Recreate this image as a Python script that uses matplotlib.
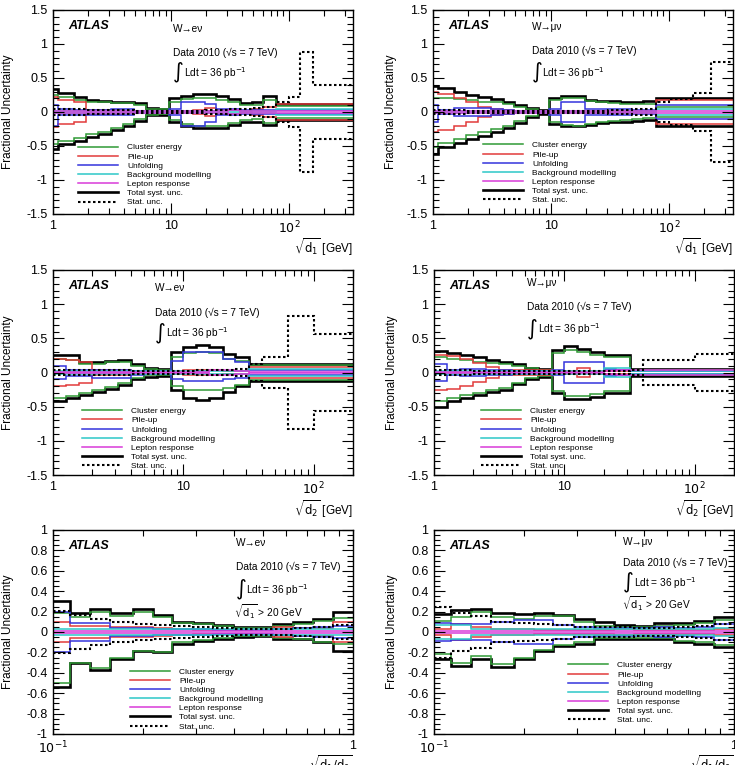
import matplotlib
matplotlib.use('Agg')
import matplotlib.pyplot as plt
from matplotlib.lines import Line2D
from matplotlib.ticker import FixedLocator, FixedFormatter, MultipleLocator, LogLocator, NullFormatter

plt.rcParams['font.family'] = ['Liberation Sans', 'DejaVu Sans']
plt.rcParams['mathtext.fontset'] = 'dejavusans'

# ================= DATA =================
# panel 1: W->e nu, sqrt(d1)
E1_EDGES = [1, 1.1, 1.5, 1.9, 2.4, 3.1, 3.9, 4.9, 6.2, 7.7, 9.6, 12.2, 15.4, 19.3, 24.3,
            30.5, 38.4, 48.3, 60.8, 78, 100, 125, 160, 350]
E1_TOT_UP = [0.34, 0.28, 0.22, 0.17, 0.16, 0.15, 0.15, 0.13, 0.06, 0.05, 0.2, 0.24, 0.26, 0.26,
             0.23, 0.19, 0.13, 0.14, 0.23, 0.12, 0.12, 0.12, 0.12]
E1_TOT_DN = [-0.55, -0.47, -0.42, -0.37, -0.32, -0.27, -0.2, -0.13, -0.05, -0.04, -0.15, -0.2,
             -0.24, -0.24, -0.24, -0.19, -0.14, -0.14, -0.19, -0.12, -0.12, -0.12, -0.12]
E1_CL_UP = [0.25, 0.22, 0.17, 0.14, 0.14, 0.13, 0.13, 0.11, 0.05, 0.04, 0.15, 0.19, 0.2, 0.2,
            0.18, 0.15, 0.11, 0.11, 0.18, 0.09, 0.09, 0.09, 0.09]
E1_CL_DN = [-0.47, -0.42, -0.38, -0.33, -0.29, -0.24, -0.18, -0.11, -0.04, -0.03, -0.12, -0.17,
            -0.2, -0.2, -0.2, -0.16, -0.12, -0.11, -0.16, -0.09, -0.09, -0.09, -0.09]
E1_PU = [0.22, 0.17, 0.15, 0.03, 0.03, 0.03, 0.02, 0.02, 0.01, 0.01, 0.01, 0.02, 0.03, 0.06,
         0.03, 0.03, 0.02, 0.04, 0.07, 0.12, 0.12, 0.12, 0.12]
E1_UNF_UP = [0.1, 0.04, 0.03, 0.03, 0.03, 0.04, 0.04, 0.02, 0.01, 0.01, 0.04, 0.15, 0.15, 0.12,
             0.05, 0.04, 0.03, 0.03, 0.03, 0.03, 0.03, 0.03, 0.03]
E1_UNF_DN = [-0.2, -0.05, -0.04, -0.04, -0.04, -0.05, -0.05, -0.02, -0.01, -0.01, -0.05, -0.2,
             -0.2, -0.15, -0.05, -0.04, -0.03, -0.03, -0.03, -0.03, -0.03, -0.03, -0.03]
E1_BKG = [0.02, 0.02, 0.02, 0.02, 0.02, 0.02, 0.02, 0.02, 0.02, 0.02, 0.02, 0.02, 0.02, 0.02,
          0.02, 0.02, 0.02, 0.02, 0.02, 0.05, 0.05, 0.05, 0.05]
E1_LEP = [0.01, 0.01, 0.01, 0.01, 0.01, 0.01, 0.01, 0.01, 0.01, 0.01, 0.01, 0.01, 0.01, 0.02,
          0.02, 0.03, 0.02, 0.01, 0.01, 0.02, 0.02, 0.02, 0.02]
E1_STAT = [0.05, 0.04, 0.04, 0.03, 0.03, 0.03, 0.03, 0.02, 0.02, 0.02, 0.02, 0.02, 0.02, 0.03,
           0.03, 0.04, 0.05, 0.06, 0.08, 0.14, 0.22, 0.88, 0.4]

# panel 2: W->mu nu, sqrt(d1)
M1_EDGES = [1, 1.1, 1.5, 1.9, 2.4, 3.1, 3.9, 4.9, 6.2, 7.7, 9.6, 12.2, 15.4, 19.3, 24.3,
            30.5, 38.4, 48.3, 60.8, 78, 100, 160, 230, 350]
M1_TOT_UP = [0.38, 0.35, 0.3, 0.25, 0.22, 0.19, 0.15, 0.1, 0.06, 0.03, 0.2, 0.24, 0.23, 0.18,
             0.16, 0.16, 0.15, 0.15, 0.16, 0.2, 0.2, 0.2, 0.2]
M1_TOT_DN = [-0.62, -0.52, -0.45, -0.4, -0.35, -0.3, -0.24, -0.16, -0.07, -0.03, -0.17, -0.2,
             -0.21, -0.19, -0.16, -0.15, -0.14, -0.13, -0.12, -0.2, -0.2, -0.2, -0.2]
M1_CL_UP = [0.2, 0.2, 0.19, 0.17, 0.15, 0.14, 0.12, 0.08, 0.05, 0.02, 0.18, 0.21, 0.2, 0.16,
            0.14, 0.13, 0.12, 0.12, 0.12, 0.07, 0.07, 0.07, 0.07]
M1_CL_DN = [-0.52, -0.46, -0.39, -0.34, -0.3, -0.25, -0.2, -0.13, -0.06, -0.02, -0.15, -0.19,
            -0.2, -0.17, -0.14, -0.13, -0.12, -0.1, -0.09, -0.07, -0.07, -0.07, -0.07]
M1_PU = [0.3, 0.26, 0.2, 0.14, 0.08, 0.04, 0.03, 0.02, 0.02, 0.01, 0.01, 0.01, 0.01, 0.01,
         0.01, 0.01, 0.01, 0.01, 0.01, 0.18, 0.18, 0.18, 0.18]
M1_UNF_UP = [0.1, 0.03, 0.06, 0.06, 0.06, 0.04, 0.03, 0.02, 0.02, 0.01, 0.05, 0.15, 0.15, 0.05,
             0.04, 0.04, 0.04, 0.03, 0.03, 0.1, 0.1, 0.1, 0.1]
M1_UNF_DN = [-0.15, -0.03, -0.06, -0.06, -0.06, -0.04, -0.03, -0.02, -0.02, -0.01, -0.05, -0.15,
             -0.15, -0.05, -0.04, -0.04, -0.04, -0.03, -0.03, -0.1, -0.1, -0.1, -0.1]
M1_BKG = [0.02, 0.02, 0.02, 0.02, 0.02, 0.02, 0.02, 0.02, 0.02, 0.02, 0.02, 0.02, 0.02, 0.02,
          0.02, 0.02, 0.02, 0.02, 0.02, 0.05, 0.05, 0.05, 0.05]
M1_LEP = [0.01, 0.01, 0.01, 0.01, 0.01, 0.01, 0.01, 0.01, 0.01, 0.01, 0.01, 0.01, 0.01, 0.01,
          0.01, 0.01, 0.01, 0.01, 0.01, 0.01, 0.01, 0.01, 0.01]
M1_STAT = [0.03, 0.03, 0.03, 0.02, 0.02, 0.02, 0.02, 0.02, 0.02, 0.02, 0.02, 0.02, 0.02, 0.02,
           0.02, 0.03, 0.03, 0.04, 0.05, 0.15, 0.19, 0.28, 0.74]

# panel 3: W->e nu, sqrt(d2)
E2_EDGES = [1, 1.26, 1.58, 2, 2.5, 3.16, 4, 5, 6.3, 8, 10, 12.6, 15.8, 20, 25, 32, 40, 63, 100, 200]
E2_TOT_UP = [0.26, 0.25, 0.16, 0.15, 0.17, 0.18, 0.13, 0.07, 0.05, 0.3, 0.37, 0.4, 0.37, 0.27,
             0.22, 0.13, 0.13, 0.13, 0.13]
E2_TOT_DN = [-0.42, -0.38, -0.33, -0.28, -0.24, -0.18, -0.1, -0.06, -0.05, -0.25, -0.37, -0.4,
             -0.37, -0.28, -0.2, -0.13, -0.13, -0.13, -0.13]
E2_CL_UP = [0.2, 0.18, 0.13, 0.13, 0.15, 0.15, 0.1, 0.05, 0.04, 0.22, 0.28, 0.3, 0.28, 0.2,
            0.17, 0.11, 0.11, 0.11, 0.11]
E2_CL_DN = [-0.38, -0.35, -0.3, -0.25, -0.21, -0.15, -0.08, -0.04, -0.03, -0.2, -0.25, -0.25,
            -0.25, -0.23, -0.18, -0.11, -0.11, -0.11, -0.11]
E2_PU = [0.2, 0.18, 0.16, 0.03, 0.04, 0.04, 0.02, 0.02, 0.02, 0.02, 0.03, 0.04, 0.03, 0.02,
         0.02, 0.08, 0.08, 0.08, 0.08]
E2_UNF_UP = [0.1, 0.04, 0.03, 0.03, 0.03, 0.03, 0.02, 0.02, 0.02, 0.17, 0.3, 0.3, 0.3, 0.2,
             0.15, 0.03, 0.03, 0.03, 0.03]
E2_UNF_DN = [-0.1, -0.05, -0.05, -0.08, -0.08, -0.08, -0.03, -0.02, -0.02, -0.1, -0.12, -0.12,
             -0.12, -0.1, -0.08, -0.03, -0.03, -0.03, -0.03]
E2_BKG = [0.02, 0.02, 0.02, 0.02, 0.02, 0.02, 0.02, 0.02, 0.02, 0.02, 0.02, 0.02, 0.02, 0.02,
          0.02, 0.05, 0.05, 0.05, 0.05]
E2_LEP = [0.01, 0.01, 0.01, 0.01, 0.01, 0.01, 0.01, 0.01, 0.01, 0.01, 0.01, 0.01, 0.03, 0.03,
          0.02, 0.01, 0.01, 0.01, 0.01]
E2_STAT = [0.04, 0.04, 0.04, 0.03, 0.03, 0.03, 0.02, 0.02, 0.02, 0.02, 0.02, 0.03, 0.04, 0.04,
           0.05, 0.12, 0.23, 0.82, 0.57]

# panel 4: W->mu nu, sqrt(d2)
M2_EDGES = [1, 1.26, 1.58, 2, 2.5, 3.16, 4, 5, 6.3, 8, 10, 12.6, 15.8, 20, 25, 32, 40, 63, 100, 200]
M2_TOT_UP = [0.32, 0.29, 0.25, 0.22, 0.19, 0.16, 0.12, 0.07, 0.05, 0.33, 0.39, 0.34, 0.3, 0.25,
             0.25, 0.05, 0.05, 0.05, 0.05]
M2_TOT_DN = [-0.5, -0.42, -0.37, -0.33, -0.29, -0.25, -0.17, -0.1, -0.06, -0.3, -0.39, -0.39,
             -0.36, -0.3, -0.3, -0.05, -0.05, -0.05, -0.05]
M2_CL_UP = [0.22, 0.2, 0.18, 0.16, 0.14, 0.12, 0.1, 0.06, 0.04, 0.28, 0.33, 0.3, 0.26, 0.22,
            0.22, 0.03, 0.03, 0.03, 0.03]
M2_CL_DN = [-0.42, -0.38, -0.33, -0.3, -0.26, -0.22, -0.15, -0.08, -0.05, -0.27, -0.35, -0.35,
            -0.32, -0.27, -0.27, -0.03, -0.03, -0.03, -0.03]
M2_PU = [0.26, 0.24, 0.2, 0.14, 0.08, 0.04, 0.04, 0.04, 0.04, 0.02, 0.02, 0.07, 0.02, 0.02,
         0.02, 0.02, 0.02, 0.02, 0.02]
M2_UNF_UP = [0.12, 0.03, 0.05, 0.05, 0.03, 0.03, 0.02, 0.02, 0.02, 0.03, 0.15, 0.15, 0.15, 0.05,
             0.03, 0.02, 0.02, 0.02, 0.02]
M2_UNF_DN = [-0.12, -0.03, -0.05, -0.05, -0.03, -0.03, -0.02, -0.02, -0.02, -0.03, -0.15, -0.15,
             -0.15, -0.05, -0.03, -0.02, -0.02, -0.02, -0.02]
M2_BKG = [0.02, 0.02, 0.02, 0.02, 0.02, 0.02, 0.02, 0.02, 0.02, 0.02, 0.02, 0.02, 0.02, 0.07,
          0.07, 0.02, 0.02, 0.02, 0.02]
M2_LEP = [0.01, 0.01, 0.01, 0.01, 0.01, 0.01, 0.01, 0.01, 0.01, 0.01, 0.01, 0.01, 0.01, 0.02,
          0.03, 0.03, 0.03, 0.03, 0.03]
M2_STAT = [0.03, 0.03, 0.03, 0.02, 0.02, 0.02, 0.02, 0.02, 0.02, 0.02, 0.02, 0.02, 0.02, 0.02,
           0.02, 0.03, 0.18, 0.18, 0.27]

# panel 5: W->e nu, sqrt(d1/d0)
ER_EDGES = [0.1, 0.114, 0.133, 0.155, 0.185, 0.215, 0.25, 0.293, 0.341, 0.398, 0.464, 0.541,
            0.63, 0.735, 0.857, 1.0]
ER_TOT_UP = [0.3, 0.19, 0.23, 0.19, 0.23, 0.17, 0.1, 0.09, 0.07, 0.05, 0.05, 0.08, 0.1, 0.13, 0.2]
ER_TOT_DN = [-0.54, -0.3, -0.37, -0.26, -0.19, -0.2, -0.12, -0.09, -0.07, -0.05, -0.04, -0.07,
             -0.07, -0.1, -0.19]
ER_CL_UP = [0.19, 0.15, 0.2, 0.16, 0.2, 0.15, 0.09, 0.08, 0.06, 0.04, 0.04, 0.06, 0.08, 0.11, 0.14]
ER_CL_DN = [-0.5, -0.3, -0.35, -0.25, -0.19, -0.2, -0.1, -0.08, -0.06, -0.04, -0.04, -0.06,
            -0.07, -0.1, -0.12]
ER_PU = [0.1, 0.06, 0.06, 0.05, 0.05, 0.04, 0.03, 0.02, 0.02, 0.02, 0.03, 0.05, 0.04, 0.04, 0.1]
ER_UNF_UP = [0.2, 0.09, 0.09, 0.04, 0.04, 0.03, 0.03, 0.03, 0.02, 0.02, 0.02, 0.03, 0.04, 0.05, 0.06]
ER_UNF_DN = [-0.2, -0.09, -0.09, -0.04, -0.04, -0.03, -0.03, -0.03, -0.02, -0.02, -0.02, -0.03,
             -0.04, -0.05, -0.06]
ER_BKG = [0.03, 0.03, 0.03, 0.03, 0.03, 0.03, 0.03, 0.03, 0.03, 0.03, 0.03, 0.03, 0.03, 0.03, 0.03]
ER_LEP = [0.01, 0.01, 0.01, 0.01, 0.01, 0.01, 0.01, 0.01, 0.01, 0.01, 0.01, 0.01, 0.01, 0.01, 0.01]
ER_STAT = [0.21, 0.17, 0.13, 0.1, 0.08, 0.07, 0.06, 0.05, 0.04, 0.03, 0.03, 0.03, 0.04, 0.05, 0.07]

# panel 6: W->mu nu, sqrt(d1/d0)
MR_EDGES = ER_EDGES
MR_TOT_UP = [0.18, 0.22, 0.23, 0.19, 0.18, 0.19, 0.17, 0.13, 0.1, 0.07, 0.06, 0.09, 0.09, 0.11, 0.15]
MR_TOT_DN = [-0.26, -0.33, -0.26, -0.34, -0.26, -0.19, -0.14, -0.12, -0.07, -0.07, -0.07, -0.07,
             -0.1, -0.12, -0.15]
MR_CL_UP = [0.11, 0.15, 0.2, 0.15, 0.13, 0.16, 0.16, 0.1, 0.06, 0.05, 0.05, 0.06, 0.07, 0.09, 0.12]
MR_CL_DN = [-0.22, -0.3, -0.24, -0.31, -0.25, -0.18, -0.13, -0.1, -0.06, -0.06, -0.06, -0.06,
            -0.09, -0.1, -0.13]
MR_PU = [0.03, 0.08, 0.05, 0.03, 0.03, 0.02, 0.02, 0.02, 0.02, 0.03, 0.02, 0.02, 0.02, 0.02, 0.03]
MR_UNF_UP = [0.09, 0.08, 0.08, 0.1, 0.12, 0.12, 0.07, 0.05, 0.04, 0.04, 0.04, 0.05, 0.04, 0.05, 0.08]
MR_UNF_DN = [-0.09, -0.08, -0.08, -0.1, -0.12, -0.12, -0.07, -0.05, -0.04, -0.04, -0.04, -0.05,
             -0.04, -0.05, -0.08]
MR_BKG = [0.07, 0.07, 0.03, 0.03, 0.03, 0.03, 0.03, 0.03, 0.03, 0.03, 0.03, 0.03, 0.03, 0.03, 0.04]
MR_LEP = [0.005, 0.005, 0.005, 0.005, 0.005, 0.005, 0.005, 0.005, 0.005, 0.005, 0.005, 0.005,
          0.005, 0.005, 0.005]
MR_STAT = [0.25, 0.19, 0.16, 0.1, 0.09, 0.08, 0.07, 0.05, 0.05, 0.05, 0.04, 0.04, 0.05, 0.06, 0.08]

LEGEND_LABELS = ['Cluster energy', 'Pile-up', 'Unfolding', 'Background modelling',
                 'Lepton response', 'Total syst. unc.', 'Stat. unc.']

C_CL = '#2f9a35'
C_PU = '#e23a3a'
C_UNF = '#3434dc'
C_BKG = '#2cc8c8'
C_LEP = '#d93ad9'

E_CHAN = 'W\u2192e\u03bd'
M_CHAN = 'W\u2192\u03bc\u03bd'


def panel(edges, tot_up, tot_dn, cl_up, cl_dn, pu, unf_up, unf_dn, bkg, lep, stat):
    return dict(edges=edges, tot_up=tot_up, tot_dn=tot_dn, cl_up=cl_up, cl_dn=cl_dn, pu=pu,
                unf_up=unf_up, unf_dn=unf_dn, bkg=bkg, lep=lep, stat=stat)


PANELS = [
    panel(E1_EDGES, E1_TOT_UP, E1_TOT_DN, E1_CL_UP, E1_CL_DN, E1_PU, E1_UNF_UP, E1_UNF_DN, E1_BKG, E1_LEP, E1_STAT),
    panel(M1_EDGES, M1_TOT_UP, M1_TOT_DN, M1_CL_UP, M1_CL_DN, M1_PU, M1_UNF_UP, M1_UNF_DN, M1_BKG, M1_LEP, M1_STAT),
    panel(E2_EDGES, E2_TOT_UP, E2_TOT_DN, E2_CL_UP, E2_CL_DN, E2_PU, E2_UNF_UP, E2_UNF_DN, E2_BKG, E2_LEP, E2_STAT),
    panel(M2_EDGES, M2_TOT_UP, M2_TOT_DN, M2_CL_UP, M2_CL_DN, M2_PU, M2_UNF_UP, M2_UNF_DN, M2_BKG, M2_LEP, M2_STAT),
    panel(ER_EDGES, ER_TOT_UP, ER_TOT_DN, ER_CL_UP, ER_CL_DN, ER_PU, ER_UNF_UP, ER_UNF_DN, ER_BKG, ER_LEP, ER_STAT),
    panel(MR_EDGES, MR_TOT_UP, MR_TOT_DN, MR_CL_UP, MR_CL_DN, MR_PU, MR_UNF_UP, MR_UNF_DN, MR_BKG, MR_LEP, MR_STAT),
]

# layout in pixels (left, top, width, height), text placement in axes fractions
W, H = 735.0, 765.0
AX_POS = [(53, 10, 300, 204), (433, 10, 300, 204),
          (53, 270, 300, 205), (434, 270, 300, 205),
          (53, 530, 300, 204), (434, 530, 300, 204)]
CHANNEL = [E_CHAN, M_CHAN, E_CHAN, M_CHAN, E_CHAN, M_CHAN]
TXT_X = [0.40, 0.33, 0.34, 0.31, 0.61, 0.63]
TXT_Y = [(0.905, 0.79, 0.69), (0.915, 0.80, 0.69), (0.91, 0.79, 0.69),
         (0.935, 0.82, 0.71), (0.935, 0.82, 0.705), (0.94, 0.84, 0.74)]
CUT_Y = [None, None, None, None, 0.60, 0.64]
LEG_X = [0.083, 0.167, 0.097, 0.157, 0.257, 0.447]
LEG_Y = [0.345, 0.355, 0.33, 0.33, 0.325, 0.355]
XLABELS = [r'$\sqrt{\mathrm{d}_1}$ [GeV]', r'$\sqrt{\mathrm{d}_1}$ [GeV]',
           r'$\sqrt{\mathrm{d}_2}$ [GeV]', r'$\sqrt{\mathrm{d}_2}$ [GeV]',
           r'$\sqrt{\mathrm{d}_1/\mathrm{d}_0}$', r'$\sqrt{\mathrm{d}_1/\mathrm{d}_0}$']

STAT_LS = (0, (1.2, 1.2))

fig = plt.figure(figsize=(7.35, 7.65), dpi=100)

for i, p in enumerate(PANELS):
    x0, y0, w, h = AX_POS[i]
    ax = fig.add_axes([x0 / W, 1 - (y0 + h) / H, w / W, h / H])
    edges = p['edges']

    ax.stairs(p['tot_up'], edges, baseline=None, color='black', lw=1.9)
    ax.stairs(p['tot_dn'], edges, baseline=None, color='black', lw=1.9)
    ax.stairs(p['cl_up'], edges, baseline=None, color=C_CL, lw=1.1)
    ax.stairs(p['cl_dn'], edges, baseline=None, color=C_CL, lw=1.1)
    ax.stairs(p['pu'], edges, baseline=None, color=C_PU, lw=1.1)
    ax.stairs([-v for v in p['pu']], edges, baseline=None, color=C_PU, lw=1.1)
    ax.stairs(p['unf_up'], edges, baseline=None, color=C_UNF, lw=1.1)
    ax.stairs(p['unf_dn'], edges, baseline=None, color=C_UNF, lw=1.1)
    ax.stairs(p['bkg'], edges, baseline=None, color=C_BKG, lw=1.1)
    ax.stairs([-v for v in p['bkg']], edges, baseline=None, color=C_BKG, lw=1.1)
    ax.stairs(p['lep'], edges, baseline=None, color=C_LEP, lw=1.1)
    ax.stairs([-v for v in p['lep']], edges, baseline=None, color=C_LEP, lw=1.1)
    ax.stairs(p['stat'], edges, baseline=None, color='black', lw=1.5, ls=STAT_LS)
    ax.stairs([-v for v in p['stat']], edges, baseline=None, color='black', lw=1.5, ls=STAT_LS)

    ax.set_xscale('log')
    ax.set_xlim(edges[0], edges[-1])
    if i < 4:
        ax.set_ylim(-1.5, 1.5)
        ax.yaxis.set_major_locator(FixedLocator([-1.5, -1, -0.5, 0, 0.5, 1, 1.5]))
        ax.yaxis.set_major_formatter(FixedFormatter(['-1.5', '-1', '-0.5', '0', '0.5', '1', '1.5']))
        ax.yaxis.set_minor_locator(MultipleLocator(0.1))
        ax.xaxis.set_major_locator(FixedLocator([1, 10, 100]))
        ax.xaxis.set_major_formatter(FixedFormatter(['1', '10', r'$10^2$']))
    else:
        ax.set_ylim(-1, 1)
        ax.yaxis.set_major_locator(FixedLocator([-1, -0.8, -0.6, -0.4, -0.2, 0, 0.2, 0.4, 0.6, 0.8, 1]))
        ax.yaxis.set_major_formatter(FixedFormatter(['-1', '-0.8', '-0.6', '-0.4', '-0.2', '0',
                                                     '0.2', '0.4', '0.6', '0.8', '1']))
        ax.yaxis.set_minor_locator(MultipleLocator(0.05))
        ax.xaxis.set_major_locator(FixedLocator([0.1, 1]))
        ax.xaxis.set_major_formatter(FixedFormatter([r'$10^{-1}$', '1']))
    ax.xaxis.set_minor_locator(LogLocator(base=10, subs=range(2, 10)))
    ax.xaxis.set_minor_formatter(NullFormatter())
    ax.tick_params(which='both', direction='in', top=True, right=True, width=0.8)
    ax.tick_params(which='major', length=8, labelsize=9, pad=4)
    ax.tick_params(which='minor', length=4)
    for s in ax.spines.values():
        s.set_linewidth(1.0)

    ax.set_ylabel('Fractional Uncertainty', fontsize=8.5)
    ax.yaxis.set_label_coords(-0.13 if x0 < 100 else -0.12, 0.5)
    ax.set_xlabel(XLABELS[i], fontsize=8.5, ha='right', va='top')
    ax.xaxis.set_label_coords(1.0, -0.112 if i < 4 else -0.095)

    # annotations
    ax.text(0.05, 0.95, 'ATLAS', transform=ax.transAxes, fontsize=9, fontweight='bold',
            fontstyle='italic', va='top', ha='left')
    tx = TXT_X[i]
    ty = TXT_Y[i]
    ax.text(tx, ty[0], CHANNEL[i], transform=ax.transAxes, fontsize=7.3, va='center')
    ax.text(tx, ty[1], 'Data 2010 (\u221as = 7 TeV)', transform=ax.transAxes,
            fontsize=7.3, va='center')
    ax.text(tx, ty[2] + 0.005, '\u222b', transform=ax.transAxes, fontsize=15, va='center',
            family=['DejaVu Sans'])
    ax.text(tx + 0.035, ty[2], 'Ldt = 36 pb$^{-1}$', transform=ax.transAxes, fontsize=7.3,
            va='center')
    if CUT_Y[i] is not None:
        ax.text(tx - 0.005, CUT_Y[i], r'$\sqrt{\mathrm{d}_1}$ > 20 GeV', transform=ax.transAxes,
                fontsize=7.3, va='center')

    handles = [Line2D([], [], color=C_CL, lw=1.1), Line2D([], [], color=C_PU, lw=1.1),
               Line2D([], [], color=C_UNF, lw=1.1), Line2D([], [], color=C_BKG, lw=1.1),
               Line2D([], [], color=C_LEP, lw=1.1), Line2D([], [], color='black', lw=1.9),
               Line2D([], [], color='black', lw=1.5, ls=STAT_LS)]
    ax.legend(handles, LEGEND_LABELS, loc='upper left', bbox_to_anchor=(LEG_X[i], LEG_Y[i]),
              frameon=False, fontsize=6, handlelength=4.8, handletextpad=1.1,
              labelspacing=0.16, borderpad=0.0, borderaxespad=0.0)

fig.savefig('out.png', dpi=100)
